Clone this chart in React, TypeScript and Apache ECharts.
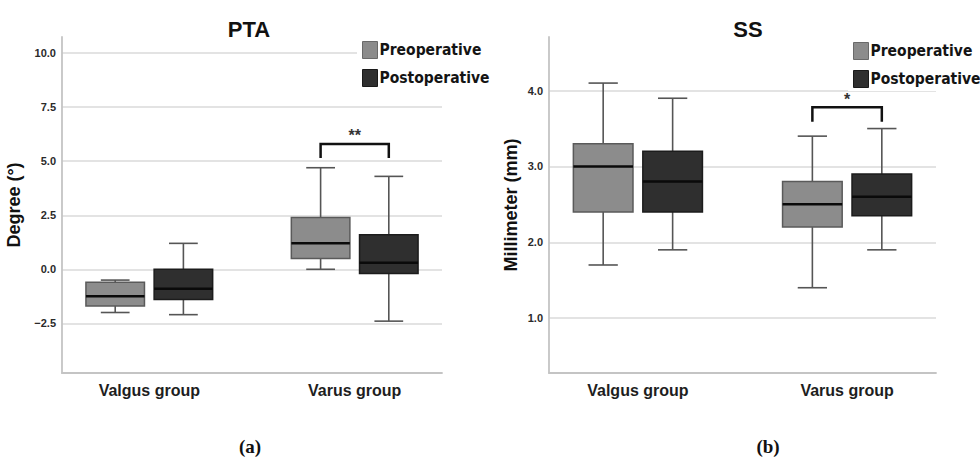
import React, { useEffect, useRef } from 'react';
import * as echarts from 'echarts';

// ---- data ----
const categories = ['Valgus group', 'Varus group'];
const seriesNames = ['Preoperative', 'Postoperative'];
const panelTitles = ['PTA', 'SS'];
const axisNames = ['Degree (°)', 'Millimeter (mm)'];
const captions = ['a', 'b'];

// [min, Q1, median, Q3, max] per group
const ptaPre = [
  [-2.0, -1.7, -1.25, -0.6, -0.5],
  [0.0, 0.5, 1.2, 2.4, 4.7],
];
const ptaPost = [
  [-2.1, -1.4, -0.9, 0.0, 1.2],
  [-2.4, -0.2, 0.3, 1.6, 4.3],
];
const ssPre = [
  [1.7, 2.4, 3.0, 3.3, 4.1],
  [1.4, 2.2, 2.5, 2.8, 3.4],
];
const ssPost = [
  [1.9, 2.4, 2.8, 3.2, 3.9],
  [1.9, 2.35, 2.6, 2.9, 3.5],
];

const ptaTicks = [-2.5, 0, 2.5, 5, 7.5, 10];
const ssTicks = [1, 2, 3, 4];
const ptaRange = [-4.8, 10.75];
const ssRange = [0.275, 4.708];

// significance brackets: [groupIndex, legBottom, barTop, labelY]
const ptaSig = [[1, 5.15, 5.8, 6.2]];
const ptaSigLabels = ['**'];
const ssSig = [[1, 3.59, 3.78, 3.88]];
const ssSigLabels = ['*'];

// ---- layout / style constants ----
const X_MIN = -0.425;
const X_MAX = 1.425;
const OFFSET = 0.166;
const BOX_W = 0.285;
const CAP_W = 0.14;
const PRE_FILL = '#8c8c8c';
const PRE_BORDER = '#5a5a5a';
const POST_FILL = '#2f2f2f';
const POST_BORDER = '#1c1c1c';
const WHISKER = '#555555';
const GRID_COLOR = '#dadada';
const AXIS_COLOR = '#c4c4c4';
const SANS = '"Liberation Sans", Arial, sans-serif';
const NARROW = '"DejaVu Sans Condensed", "Liberation Sans Narrow", sans-serif';
const SERIF = '"Liberation Serif", "Times New Roman", serif';

const makeBoxRender = (offset: number, fill: string, border: string) => (params: any, api: any) => {
  const g = api.value(0) + offset;
  const pLo = api.coord([g, api.value(1)]);
  const pQ1 = api.coord([g, api.value(2)]);
  const pMed = api.coord([g, api.value(3)]);
  const pQ3 = api.coord([g, api.value(4)]);
  const pHi = api.coord([g, api.value(5)]);
  const hw = api.size([BOX_W, 0])[0] / 2;
  const cw = api.size([CAP_W, 0])[0] / 2;
  const x = pMed[0];
  const ws = { stroke: WHISKER, lineWidth: 1.6 };
  return {
    type: 'group',
    children: [
      { type: 'line', shape: { x1: x, y1: pQ3[1], x2: x, y2: pHi[1] }, style: ws },
      { type: 'line', shape: { x1: x - cw, y1: pHi[1], x2: x + cw, y2: pHi[1] }, style: ws },
      { type: 'line', shape: { x1: x, y1: pQ1[1], x2: x, y2: pLo[1] }, style: ws },
      { type: 'line', shape: { x1: x - cw, y1: pLo[1], x2: x + cw, y2: pLo[1] }, style: ws },
      {
        type: 'rect',
        shape: { x: x - hw, y: pQ3[1], width: hw * 2, height: pQ1[1] - pQ3[1] },
        style: { fill, stroke: border, lineWidth: 1.5 },
      },
      {
        type: 'line',
        shape: { x1: x - hw, y1: pMed[1], x2: x + hw, y2: pMed[1] },
        style: { stroke: '#0a0a0a', lineWidth: 2.5 },
      },
    ],
  };
};

const makeSigRender = (labels: string[]) => (params: any, api: any) => {
  const g = api.value(0);
  const legB = api.value(1);
  const top = api.value(2);
  const ly = api.value(3);
  const a = api.coord([g - OFFSET, legB]);
  const b = api.coord([g - OFFSET, top]);
  const c = api.coord([g + OFFSET, top]);
  const d = api.coord([g + OFFSET, legB]);
  const t = api.coord([g, ly]);
  return {
    type: 'group',
    children: [
      {
        type: 'polyline',
        shape: { points: [a, b, c, d] },
        style: { stroke: '#111', lineWidth: 2.5, fill: 'none' },
      },
      {
        type: 'text',
        x: t[0],
        y: t[1],
        style: {
          text: labels[params.dataIndex],
          fill: '#333',
          font: `bold 16px ${SANS}`,
          textAlign: 'center',
          textVerticalAlign: 'middle',
        },
      },
    ],
  };
};

const boxSeries = (name: string, data: number[][], idx: number, offset: number, fill: string, border: string) => ({
  type: 'custom',
  name,
  xAxisIndex: idx,
  yAxisIndex: idx,
  data: data.map((d, i) => [i, ...d]),
  encode: { x: 0, y: [1, 2, 3, 4, 5] },
  itemStyle: { color: fill, borderColor: border, borderWidth: 1 },
  renderItem: makeBoxRender(offset, fill, border),
  silent: true,
});

const sigSeries = (data: number[][], labels: string[], idx: number) => ({
  type: 'custom',
  name: 'sig' + idx,
  xAxisIndex: idx,
  yAxisIndex: idx,
  data,
  encode: { x: 0, y: [1, 2, 3] },
  renderItem: makeSigRender(labels),
  silent: true,
});

const fmt = (v: number) => v.toFixed(1).replace('-', '\u2212');

const xAxis = (idx: number) => ({
  type: 'value',
  gridIndex: idx,
  min: X_MIN,
  max: X_MAX,
  axisLine: { show: true, onZero: false, lineStyle: { color: AXIS_COLOR, width: 1.8 } },
  axisTick: { show: false, customValues: [0, 1] },
  splitLine: { show: false },
  axisLabel: {
    customValues: [0, 1],
    formatter: (v: number) => categories[Math.round(v)] ?? '',
    color: '#1e1e1e',
    fontFamily: SANS,
    fontWeight: 'bold',
    fontSize: 16,
    margin: 9,
  },
});

const yAxis = (idx: number, range: number[], ticks: number[], name: string, gap: number) => ({
  type: 'value',
  gridIndex: idx,
  min: range[0],
  max: range[1],
  name,
  nameLocation: 'middle',
  nameRotate: 90,
  nameGap: gap,
  nameTextStyle: { color: '#111', fontFamily: SANS, fontWeight: 'bold', fontSize: 18 },
  axisLine: { show: true, onZero: false, lineStyle: { color: AXIS_COLOR, width: 1.8 } },
  axisTick: { show: false, customValues: ticks },
  splitLine: { show: true, lineStyle: { color: GRID_COLOR, width: 1.5 } },
  axisLabel: {
    customValues: ticks,
    formatter: fmt,
    color: '#2a2a2a',
    fontFamily: SANS,
    fontWeight: 'bold',
    fontSize: 11,
    margin: 6,
  },
});

const legendData = [
  { name: seriesNames[0], itemStyle: { color: PRE_FILL, borderColor: '#6a6a6a', borderWidth: 1 } },
  { name: seriesNames[1], itemStyle: { color: POST_FILL, borderColor: '#1a1a1a', borderWidth: 1 } },
];

const legend = (left: number, top: number) => ({
  left,
  top,
  orient: 'vertical',
  icon: 'rect',
  itemWidth: 15,
  itemHeight: 17,
  itemGap: 10,
  padding: [5, 5, 3, 5],
  backgroundColor: '#ffffff',
  selectedMode: false,
  data: legendData,
  textStyle: { color: '#141414', fontFamily: NARROW, fontWeight: 'bold', fontSize: 15.5, padding: [0, 0, 0, -3] },
});

const captionTitle = (letter: string, left: number) => ({
  text: `{n|(}{b|${letter}}{n|)}`,
  left,
  top: 432,
  textAlign: 'center',
  textStyle: {
    rich: {
      n: { fontFamily: SERIF, fontSize: 19, color: '#111' },
      b: { fontFamily: SERIF, fontSize: 19, fontWeight: 'bold', color: '#111' },
    },
  },
});

export default function App() {
  const ref = useRef<HTMLDivElement>(null);
  useEffect(() => {
    if (!ref.current) return;
    const chart = echarts.init(ref.current, undefined, { renderer: 'svg' });
    chart.setOption({
      animation: false,
      backgroundColor: '#ffffff',
      title: [
        {
          text: panelTitles[0],
          left: 244,
          top: 13,
          textAlign: 'center',
          textStyle: { fontFamily: SANS, fontWeight: 'bold', fontSize: 22, color: '#111' },
        },
        {
          text: panelTitles[1],
          left: 743,
          top: 13,
          textAlign: 'center',
          textStyle: { fontFamily: SANS, fontWeight: 'bold', fontSize: 22, color: '#111' },
        },
        captionTitle(captions[0], 245),
        captionTitle(captions[1], 763),
      ],
      legend: [legend(357, 36), legend(848, 37)],
      grid: [
        { left: 62, right: 538, top: 37, bottom: 85 },
        { left: 549, right: 44, top: 37, bottom: 85 },
      ],
      xAxis: [xAxis(0), xAxis(1)],
      yAxis: [
        yAxis(0, ptaRange, ptaTicks, axisNames[0], 39),
        yAxis(1, ssRange, ssTicks, axisNames[1], 29),
      ],
      series: [
        boxSeries(seriesNames[0], ptaPre, 0, -OFFSET, PRE_FILL, PRE_BORDER),
        boxSeries(seriesNames[1], ptaPost, 0, OFFSET, POST_FILL, POST_BORDER),
        boxSeries(seriesNames[0], ssPre, 1, -OFFSET, PRE_FILL, PRE_BORDER),
        boxSeries(seriesNames[1], ssPost, 1, OFFSET, POST_FILL, POST_BORDER),
        sigSeries(ptaSig, ptaSigLabels, 0),
        sigSeries(ssSig, ssSigLabels, 1),
      ],
    });
    return () => chart.dispose();
  }, []);
  return (
    <div
      ref={ref}
      style={{ position: 'fixed', left: 0, top: 0, width: 980, height: 458 }}
    />
  );
}
